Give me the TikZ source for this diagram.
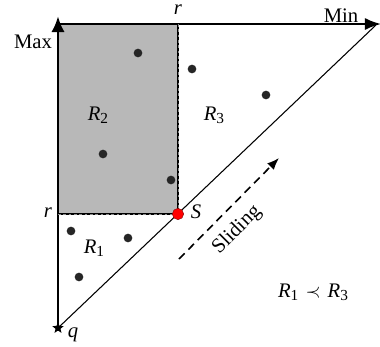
\documentclass[tikz,border=0pt]{standalone}
\usepackage{fontspec}
\setmainfont{Liberation Serif}
\usetikzlibrary{arrows.meta,shapes.geometric}
\newcommand\mysub[1]{\raisebox{-0.35ex}{\fontsize{11.5}{12}\selectfont #1}}
\begin{document}
\begin{tikzpicture}[x=0.75pt,y=-0.75pt,
  pt/.style={circle,fill=black!85,inner sep=0pt,minimum size=6.5pt},
  lbl/.style={inner sep=0pt,font=\fontsize{15.5}{17}\selectfont},
  edge/.style={line width=1.7pt},
  edgedash/.style={line width=0.3pt,draw=black!45,dash pattern=on 2pt off 2pt},
]
\useasboundingbox (0,0) rectangle (380,347);
% coordinates
\coordinate (q) at (58,328);
\coordinate (tl) at (58,24);
\coordinate (top) at (58,16);
\coordinate (tr) at (178,24);
\coordinate (S) at (178,214);
\coordinate (bl) at (58,214);
\coordinate (minend) at (381,24);
\coordinate (diagend) at (376,25);
\coordinate (sa) at (179,259);
\coordinate (sb) at (279,158);
% grey region
\fill[black!28] (tl) rectangle (S);
% axes
\draw[line width=2.2pt,-{Latex[length=12pt,width=10pt]}] (q) -- (top);
\draw[line width=1.4pt,-{Latex[length=12pt,width=9pt]}] (tl) -- (minend);
\draw[line width=0.8pt] (q) -- (diagend);
% rectangle borders
\draw[edge] (tr) -- (S);
\draw[edge] (bl) -- (S);
\draw[edgedash] (tr) -- (S);
\draw[edgedash] (bl) -- (S);
\draw[line width=2.2pt] (tl) -- (tr);
% dashed arrow
\draw[line width=1.2pt,dash pattern=on 6pt off 4pt,-{Latex[length=9pt,width=7pt]}] (sa) -- (sb);
% points
\node[pt] (p1) at (138,53) {};
\node[pt] (p2) at (192,69) {};
\node[pt] (p3) at (266,95) {};
\node[pt] (p4) at (103,154) {};
\node[pt] (p5) at (171,180) {};
\node[pt] (p6) at (71,231) {};
\node[pt] (p7) at (128,238) {};
\node[pt] (p8) at (79,277) {};
\node[circle,fill=red,draw=red!50!black,line width=0.3pt,inner sep=0pt,minimum size=8.5pt] (sdot) at (S) {};
\node[star,star points=5,star point ratio=2.3,fill=black,inner sep=0pt,minimum size=9pt] (qstar) at (q) {};
% labels
\node[lbl] (lmax) at (33,42) {Max};
\node[lbl] (lmin) at (341,16) {Min};
\node[lbl] (lr1) at (178,10) {\textit{r}};
\node[lbl] (lr2) at (48,213) {\textit{r}};
\node[lbl] (lR2) at (98,115) {\textit{R}\mysub{2}};
\node[lbl] (lR3) at (214,115) {\textit{R}\mysub{3}};
\node[lbl] (lR1) at (94,248) {\textit{R}\mysub{1}};
\node[lbl] (lS) at (196,212) {\textit{S}};
\node[lbl] (lq) at (73,335) {\textit{q}};
\node[lbl] (lrel) at (313,292) {\textit{R}\mysub{1}\hspace{0.35em}$\prec$\hspace{0.35em}\textit{R}\mysub{3}};
\node[lbl,rotate=45] (lsl) at (237,230) {Sliding};
\end{tikzpicture}
\end{document}
